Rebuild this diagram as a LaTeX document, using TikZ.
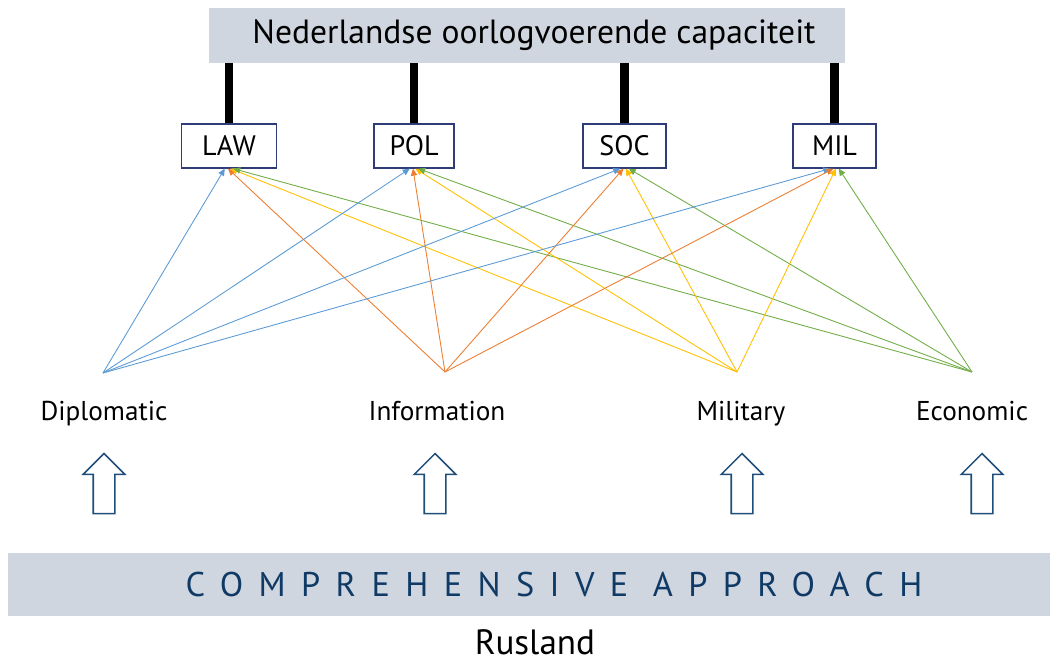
\documentclass[tikz,border=0pt]{standalone}
\usepackage{fontspec}
\setmainfont{PT Sans}
\usetikzlibrary{shapes.arrows,arrows.meta}

\definecolor{bandgrey}{HTML}{CFD6DF}
\definecolor{boxline}{HTML}{2F3C78}
\definecolor{navy}{HTML}{1F4E79}
\definecolor{bandtext}{HTML}{0F3A66}
\definecolor{dipBlue}{HTML}{5B9BD5}
\definecolor{infOrange}{HTML}{ED7D31}
\definecolor{milYellow}{HTML}{FFC000}
\definecolor{ecoGreen}{HTML}{70AD47}

\begin{document}
\begin{tikzpicture}[x=0.02cm,y=-0.02cm]

\tikzset{band/.style={fill=bandgrey,inner sep=0pt}}
\tikzset{pillar/.style={draw=boxline,fill=white,line width=0.7pt,minimum height=0.88cm,font=\fontsize{16}{18}\selectfont}}
\tikzset{bar/.style={line width=5pt}}
\tikzset{link/.style={-{Triangle[length=4pt,width=3.6pt]},line width=0.5pt}}
\tikzset{upArrow/.style={single arrow,draw=navy,line width=0.9pt,rotate=90,minimum height=1.2cm,inner xsep=0pt,inner ysep=0.2cm,single arrow head extend=0.2cm}}
\tikzset{instr/.style={anchor=base,inner sep=0pt,font=\fontsize{15.5}{18}\selectfont}}

\useasboundingbox (0,0) rectangle (1050,661);

\node[band,minimum width=12.72cm,minimum height=1.1cm,font=\fontsize{19.1}{22}\selectfont] (NL) at (527,35.5) {\hspace{0.28cm}Nederlandse oorlogvoerende capaciteit};

\node[pillar,minimum width=1.9cm] (LAW) at (229,146) {LAW};
\node[pillar,minimum width=1.6cm] (POL) at (414,146) {POL};
\node[pillar,minimum width=1.66cm] (SOC) at (624.5,146) {SOC};
\node[pillar,minimum width=1.66cm] (MIL) at (834.5,146) {MIL};

\foreach \p in {LAW,POL,SOC,MIL}
  \draw[bar] (\p.north) -- (\p.north |- NL.south);

\coordinate (D) at (103,373);
\coordinate (I) at (445,372);
\coordinate (M) at (737,372);
\coordinate (E) at (972,372);

\foreach \p in {LAW,POL,SOC,MIL} {
  \draw[link,dipBlue] (D) -- ([xshift=-2.4pt]\p.south);
  \draw[link,infOrange] (I) -- ([xshift=-0.6pt]\p.south);
  \draw[link,milYellow] (M) -- ([xshift=0.8pt]\p.south);
  \draw[link,ecoGreen] (E) -- ([xshift=2.4pt]\p.south);
}

\node[instr] (Dlab) at (104,420) {Diplomatic};
\node[instr] (Ilab) at (437,420) {Information};
\node[instr] (Mlab) at (741,420) {Military};
\node[instr] (Elab) at (972,420) {Economic};

\node[upArrow] (Dup) at (104,489) {};
\node[upArrow] (Iup) at (435,489) {};
\node[upArrow] (Mup) at (742,489) {};
\node[upArrow] (Eup) at (982,489) {};

\node[band,minimum width=20.84cm,minimum height=1.26cm] (CA) at (529,584.5) {};
\node[text=bandtext,font=\fontsize{19.5}{22}\selectfont] (CAtxt) at (554,584.5) {\addfontfeatures{LetterSpace=45}COMPREHENSIVE APPROACH};

\node[anchor=base,inner sep=0pt,font=\fontsize{20}{22}\selectfont] (RU) at (535,654) {Rusland};

\end{tikzpicture}
\end{document}
